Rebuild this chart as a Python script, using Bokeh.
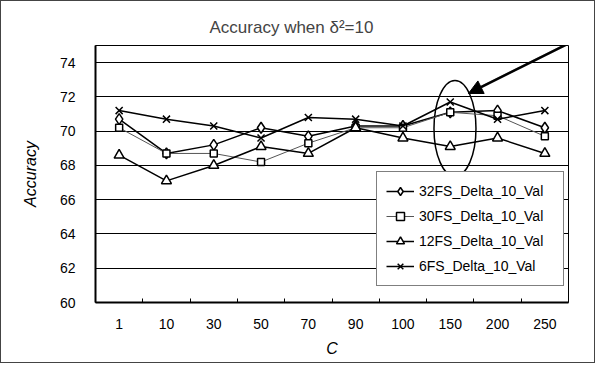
from bokeh.plotting import figure
from bokeh.models import (Range1d, FixedTicker, Legend, LegendItem, Arrow,
                          NormalHead, Ellipse, ColumnDataSource, PolyAnnotation)
from bokeh.embed import file_html
from bokeh.resources import INLINE

# ---- data ----
c_labels = ["1", "10", "30", "50", "70", "90", "100", "150", "200", "250"]
fs32 = [70.7, 68.7, 69.2, 70.2, 69.7, 70.3, 70.3, 71.1, 71.2, 70.2]
fs30 = [70.2, 68.7, 68.7, 68.2, 69.3, 70.2, 70.2, 71.1, 70.9, 69.7]
fs12 = [68.6, 67.1, 68.0, 69.1, 68.7, 70.2, 69.6, 69.1, 69.6, 68.7]
fs6 = [71.2, 70.7, 70.3, 69.6, 70.8, 70.7, 70.3, 71.7, 70.7, 71.2]
series_names = ["32FS_Delta_10_Val", "30FS_Delta_10_Val", "12FS_Delta_10_Val", "6FS_Delta_10_Val"]
y_ticks = [60, 62, 64, 66, 68, 70, 72, 74]
highlight = "150"

FONT = "Liberation Sans"
xs = list(range(len(c_labels)))

p = figure(width=595, height=363, output_backend="svg", toolbar_location=None,
           x_range=Range1d(-0.5, len(c_labels) - 0.5), y_range=Range1d(60, 75),
           min_border_left=94, min_border_right=28, min_border_top=44, min_border_bottom=62)
p.styles = {"border": "1px solid #444"}

p.title.text = "Accuracy when  \u03b4\u00b2=10"
p.title.text_font = FONT
p.title.text_font_size = "17px"
p.title.text_font_style = "normal"
p.title.align = "left"
p.title.offset = 114
p.title.standoff = 17

p.outline_line_color = "black"
p.outline_line_width = 1

# axes
p.xaxis.ticker = FixedTicker(ticks=xs, minor_ticks=[i + 0.5 for i in xs[:-1]])
p.xaxis.major_label_overrides = {i: lab for i, lab in zip(xs, c_labels)}
p.xaxis.major_tick_line_color = None
p.xaxis.minor_tick_line_color = "black"
p.xaxis.minor_tick_in = 4
p.xaxis.minor_tick_out = 0
p.xaxis.axis_line_width = 2
p.xaxis.axis_line_color = "black"
p.xaxis.major_label_standoff = 10
p.xaxis.axis_label = "C"
p.xaxis.axis_label_text_font_style = "italic"
p.xaxis.axis_label_text_font_size = "16px"
p.xaxis.axis_label_standoff = 8

p.yaxis.ticker = FixedTicker(ticks=y_ticks)
p.yaxis.major_tick_line_color = None
p.yaxis.minor_tick_line_color = None
p.yaxis.axis_line_width = 2
p.yaxis.axis_line_color = "black"
p.yaxis.major_label_standoff = 14
p.yaxis.axis_label = "Accuracy"
p.yaxis.axis_label_text_font_style = "italic"
p.yaxis.axis_label_text_font_size = "16px"
p.yaxis.axis_label_standoff = 18

for ax in (p.xaxis, p.yaxis):
    ax.major_label_text_font = FONT
    ax.major_label_text_font_size = "14px"
    ax.major_label_text_color = "black"
    ax.axis_label_text_font = FONT
    ax.axis_label_text_color = "black"

p.xgrid.grid_line_color = None
p.ygrid.grid_line_color = "black"
p.ygrid.grid_line_width = 1
p.ygrid.ticker = FixedTicker(ticks=y_ticks)

# highlight ellipse
hi = c_labels.index(highlight)
p.add_glyph(Ellipse(x=hi + 0.1, y=70.16, width=42, height=96,
                    width_units="screen", height_units="screen",
                    fill_color=None, line_color="black", line_width=1.5))

items = []
styles = [
    (fs32, "diamond", 11, 1.5, "black"),
    (fs30, "square", 7, 1.0, "#555555"),
    (fs12, "triangle", 10, 1.5, "black"),
    (fs6, "x", 10, 1.5, "black"),
]
for (vals, marker, size, lw, col), name in zip(styles, series_names):
    src = ColumnDataSource(dict(x=xs, y=vals))
    r1 = p.line("x", "y", source=src, line_color=col, line_width=lw)
    r2 = p.scatter("x", "y", source=src, marker=marker, size=size,
                   fill_color="white", line_color="black", line_width=1.5)
    items.append(LegendItem(label=name, renderers=[r1, r2]))

# arrow pointing at the highlighted category (shaft may leave the frame)
ax0, ay0 = hi + 2.965, 75.76
ax1, ay1 = hi + 0.386, 72.2
p.add_layout(PolyAnnotation(xs=[ax0, ax1], ys=[ay0, ay1], fill_color=None,
                            line_color="black", line_width=2.5))
p.add_layout(Arrow(x_start=ax0, y_start=ay0, x_end=ax1, y_end=ay1,
                   line_color="black", line_width=2.5,
                   end=NormalHead(size=14, fill_color="black", line_color="black")))

legend = Legend(items=items, location=(281, 16))
legend.label_text_font = FONT
legend.label_text_font_size = "14px"
legend.label_text_color = "black"
legend.border_line_color = "black"
legend.border_line_width = 1
legend.background_fill_color = "white"
legend.background_fill_alpha = 1
legend.padding = 9
legend.margin = 0
legend.spacing = 5
legend.glyph_width = 28
legend.glyph_height = 20
legend.label_height = 20
legend.label_width = 135
legend.label_standoff = 5
p.add_layout(legend, "center")

open("out.html", "w").write(file_html(p, INLINE))
